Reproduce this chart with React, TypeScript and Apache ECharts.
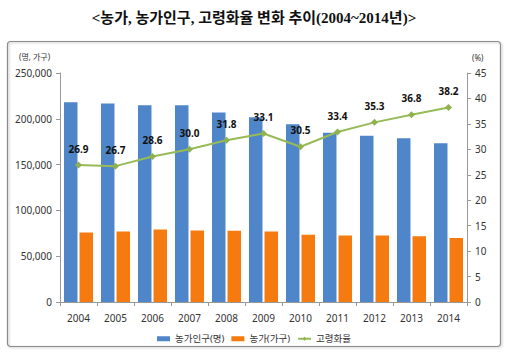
import React, { useEffect, useRef } from "react";
import * as echarts from "echarts";

const categories = ["2004", "2005", "2006", "2007", "2008", "2009", "2010", "2011", "2012", "2013", "2014"];
const farmPopulation = [218200, 216600, 214900, 214800, 206800, 201700, 194100, 184900, 181600, 178800, 173300];
const farmHouseholds = [75900, 77000, 79200, 78100, 77700, 77000, 73300, 72600, 72600, 71900, 70000];
const agingRate = [26.9, 26.7, 28.6, 30.0, 31.8, 33.1, 30.5, 33.4, 35.3, 36.8, 38.2];

const seriesNames = ["농가인구(명)", "농가(가구)", "고령화율"];
const titleText = "<농가, 농가인구, 고령화율 변화 추이(2004~2014년)>";
const leftAxisName = "(명, 가구)";
const rightAxisName = "(%)";

const FONT = "'Noto Sans', 'Noto Sans CJK KR', sans-serif";

export default function App() {
  const ref = useRef<HTMLDivElement>(null);
  useEffect(() => {
    if (!ref.current) return;
    const chart = echarts.init(ref.current, undefined, { renderer: "svg" });
    chart.setOption({
      animation: false,
      backgroundColor: "#ffffff",
      textStyle: { fontFamily: FONT },
      title: {
        text: titleText,
        left: "center",
        top: 5,
        textStyle: {
          fontFamily: "'Liberation Serif', 'Noto Sans CJK KR', serif",
          fontSize: 15,
          fontWeight: "bold",
          color: "#111",
        },
      },
      graphic: [
        {
          type: "rect",
          shape: { x: 7.5, y: 41.5, width: 493, height: 305, r: 3 },
          style: { fill: "none", stroke: "#8c8c8c", lineWidth: 1.2, shadowBlur: 2, shadowColor: "rgba(0,0,0,0.25)", shadowOffsetX: 1, shadowOffsetY: 1 },
          silent: true,
          z: -1,
        },
        {
          type: "text",
          x: 19,
          y: 52,
          style: { text: leftAxisName, fontSize: 8, fill: "#333", fontFamily: FONT },
        },
        {
          type: "text",
          x: 472,
          y: 53,
          style: { text: rightAxisName, fontSize: 8, fill: "#333", fontFamily: FONT },
        },
      ],
      legend: {
        top: 329,
        left: "center",
        itemWidth: 13,
        itemHeight: 5,
        itemGap: 7,
        textStyle: { fontSize: 9.5, color: "#333", fontFamily: FONT },
        data: [
          { name: seriesNames[0], icon: "rect" },
          { name: seriesNames[1], icon: "rect" },
          { name: seriesNames[2] },
        ],
      },
      grid: { left: 60, right: 41, top: 73, bottom: 59 },
      xAxis: {
        type: "category",
        data: categories,
        boundaryGap: true,
        axisLine: { lineStyle: { color: "#999" } },
        axisTick: { show: true, length: 4, lineStyle: { color: "#999" } },
        axisLabel: { fontSize: 10, color: "#333", margin: 11 },
      },
      yAxis: [
        {
          type: "value",
          min: 0,
          max: 250000,
          interval: 50000,
          axisLine: { show: true, lineStyle: { color: "#999" } },
          axisTick: { show: true, length: 4, lineStyle: { color: "#999" } },
          splitLine: { show: false },
          axisLabel: {
            fontSize: 10,
            color: "#333",
            margin: 8,
            formatter: (v: number) => v.toLocaleString("en-US"),
          },
        },
        {
          type: "value",
          min: 0,
          max: 45,
          interval: 5,
          position: "right",
          axisLine: { show: true, lineStyle: { color: "#999" } },
          axisTick: { show: true, length: 4, lineStyle: { color: "#999" } },
          splitLine: { show: false },
          axisLabel: { fontSize: 10, color: "#333", margin: 8 },
        },
      ],
      series: [
        {
          name: seriesNames[0],
          type: "bar",
          data: farmPopulation,
          barWidth: 13.5,
          barGap: "15%",
          itemStyle: { color: "#4f86c9" },
          yAxisIndex: 0,
        },
        {
          name: seriesNames[1],
          type: "bar",
          data: farmHouseholds,
          barWidth: 13.5,
          barGap: "15%",
          itemStyle: { color: "#f57a0f" },
          yAxisIndex: 0,
        },
        {
          name: seriesNames[2],
          type: "line",
          data: agingRate,
          yAxisIndex: 1,
          symbol: "diamond",
          symbolSize: 7,
          lineStyle: { color: "#97bb57", width: 2 },
          itemStyle: { color: "#8fb24f" },
          label: {
            show: true,
            position: "top",
            distance: 8,
            fontSize: 10,
            fontWeight: "bold",
            color: "#111",
            formatter: (p: any) => Number(p.value).toFixed(1),
          },
          z: 5,
        },
      ],
    });
    return () => chart.dispose();
  }, []);
  return (
    <div
      ref={ref}
      style={{ position: "fixed", left: 0, top: 0, width: 508, height: 361 }}
    />
  );
}
